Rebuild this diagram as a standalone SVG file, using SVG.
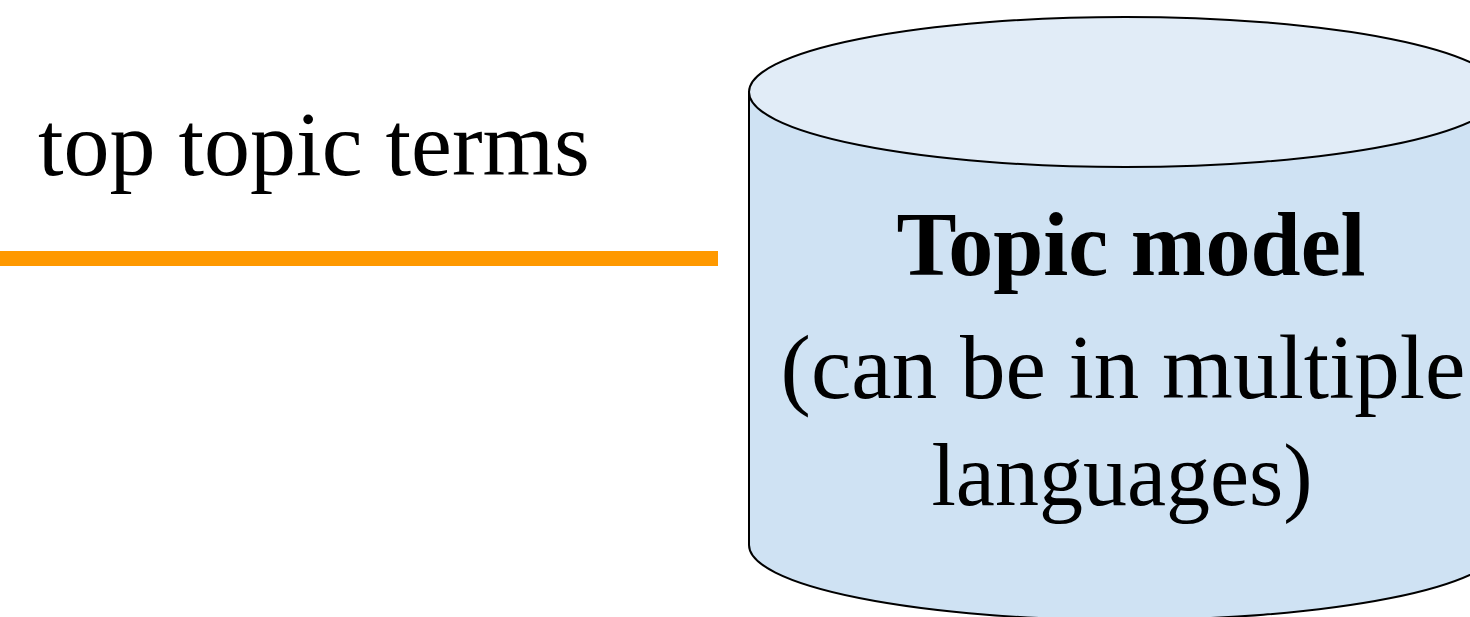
<svg xmlns="http://www.w3.org/2000/svg" width="1470" height="617" viewBox="0 0 1470 617">
<style>
.t{font-family:"Liberation Serif","Times New Roman",serif;fill:#000}
.b{font-weight:bold}
</style>
<rect width="1470" height="617" fill="#fff"/>
<g id="label-top-topic-terms">
<text class="t" x="38" y="175" font-size="92">top topic terms</text>
</g>
<g id="connectors">
<line x1="0" y1="258.5" x2="718" y2="258.5" stroke="#FF9900" stroke-width="15"/>
</g>
<g id="topic-model">
<path d="M749,92 L749,545 A376,75 0 0 0 1501,545 L1501,92 Z" fill="#CFE2F3" stroke="#000" stroke-width="2"/>
<ellipse cx="1125" cy="92" rx="376" ry="75" fill="#E1ECF7" stroke="#000" stroke-width="2"/>
<text class="t b" x="1131" y="275" font-size="90" text-anchor="middle">Topic model</text>
<text class="t" x="1123" y="398" font-size="91" text-anchor="middle">(can be in multiple</text>
<text class="t" x="1122" y="505" font-size="88" text-anchor="middle">languages)</text>
</g>
</svg>
